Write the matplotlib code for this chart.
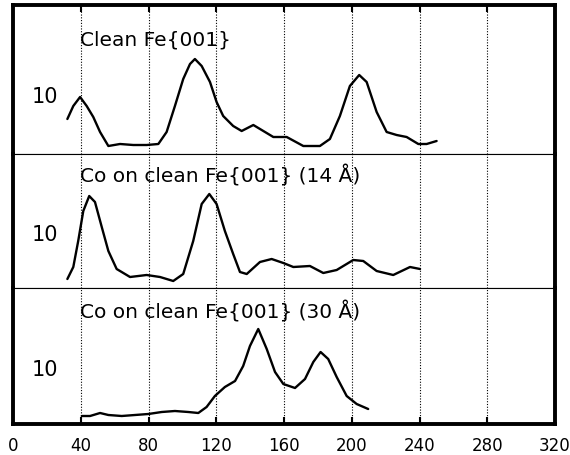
import matplotlib.pyplot as plt

# x positions and heights (heights in arbitrary units per panel)
x_clean = [32.1, 35.6, 39.6, 43.5, 47.4, 51.4, 56.3, 63.2, 71.0, 78.9, 85.8, 90.7, 95.6, 100.5,
           104.5, 107.4, 111.4, 116.3, 120.2, 124.1, 130.0, 135.0, 141.9, 147.8, 153.7, 161.6,
           171.4, 181.2, 187.1, 193.0, 198.9, 204.4, 208.8, 214.7, 220.6, 226.5, 232.4, 239.3,
           244.2, 250.1]
y_clean = [35, 48, 57, 48, 37, 22, 8, 10, 9, 9, 10, 22, 48, 75,
           90, 95, 88, 72, 52, 38, 28, 23, 29, 23, 17, 17,
           8, 8, 15, 38, 68, 79, 72, 42, 22, 19, 17, 10,
           10, 13]

x_co14 = [32.1, 35.6, 38.5, 41.5, 45.0, 48.4, 52.4, 56.3, 61.2, 69.1, 78.9, 86.8, 94.6, 100.5,
          106.4, 111.4, 115.9, 120.2, 125.1, 130.0, 134.0, 138.0, 145.8, 152.7, 159.6, 165.5,
          175.3, 183.2, 191.1, 200.9, 206.8, 214.7, 224.5, 234.4, 240.3]
y_co14 = [9, 21, 47, 77, 92, 86, 61, 37, 19, 11, 13, 11, 7, 14,
          47, 84, 94, 84, 57, 34, 16, 14, 26, 29, 25, 21,
          22, 15, 18, 28, 27, 17, 13, 21, 19]

x_co30 = [40.6, 45.5, 51.4, 56.3, 64.2, 72.0, 79.9, 87.8, 95.6, 103.5, 109.4, 114.3, 119.2,
          125.1, 131.1, 135.9, 139.9, 144.8, 149.8, 154.7, 159.6, 166.5, 172.4, 177.3, 181.6,
          186.1, 191.1, 197.0, 202.9, 209.7]
y_co30 = [8, 8, 11, 9, 8, 9, 10, 12, 13, 12, 11, 17, 28,
          37, 43, 58, 78, 95, 75, 52, 40, 36, 45, 62, 72,
          65, 47, 28, 20, 15]

titles = ["Clean Fe{001}", "Co on clean Fe{001} (14 Å)", "Co on clean Fe{001} (30 Å)"]
xticks = [0, 40, 80, 120, 160, 200, 240, 280, 320]
grid_x = [40, 80, 120, 160, 200, 240, 280]

W, H = 570, 456
fig = plt.figure(figsize=(W / 100, H / 100), dpi=100)

# panel extents in pixels (top, bottom)
panels = [(6, 155), (155, 289), (289, 425)]
series = [(x_clean, y_clean), (x_co14, y_co14), (x_co30, y_co30)]
label_y = [58, 54, 55]
title_y = [109, 106, 107]

for i, ((top, bot), (xs, ys)) in enumerate(zip(panels, series)):
    ax = fig.add_axes([13 / W, (H - bot) / H, 542 / W, (bot - top) / H])
    ax.set_xlim(0, 320)
    ax.set_ylim(0, bot - top)
    ax.plot(xs, ys, color='black', lw=1.7, solid_joinstyle='round', solid_capstyle='round')
    for gx in grid_x:
        ax.axvline(gx, color='black', lw=0.8, ls=(0, (1, 1.5)), zorder=0)
    ax.text(19, label_y[i], "10", fontsize=15, ha='center', va='center')
    ax.text(39.5, title_y[i], titles[i], fontsize=14.5, ha='left', va='baseline')
    ax.set_yticks([])
    for side in ['left', 'right']:
        ax.spines[side].set_linewidth(2.8)
    ax.spines['top'].set_linewidth(2.8 if i == 0 else 0.8)
    ax.spines['bottom'].set_linewidth(2.8 if i == 2 else 0.8)
    ax.set_xticks(xticks)
    if i == 0:
        ax.tick_params(axis='x', direction='in', length=5, width=1.5,
                       top=True, bottom=False, labelbottom=False)
    elif i == 2:
        ax.tick_params(axis='x', direction='in', length=5, width=1.5,
                       top=False, bottom=True, labelsize=12, pad=9)
    else:
        ax.tick_params(axis='x', bottom=False, labelbottom=False)

fig.savefig('out.png', dpi=100)
